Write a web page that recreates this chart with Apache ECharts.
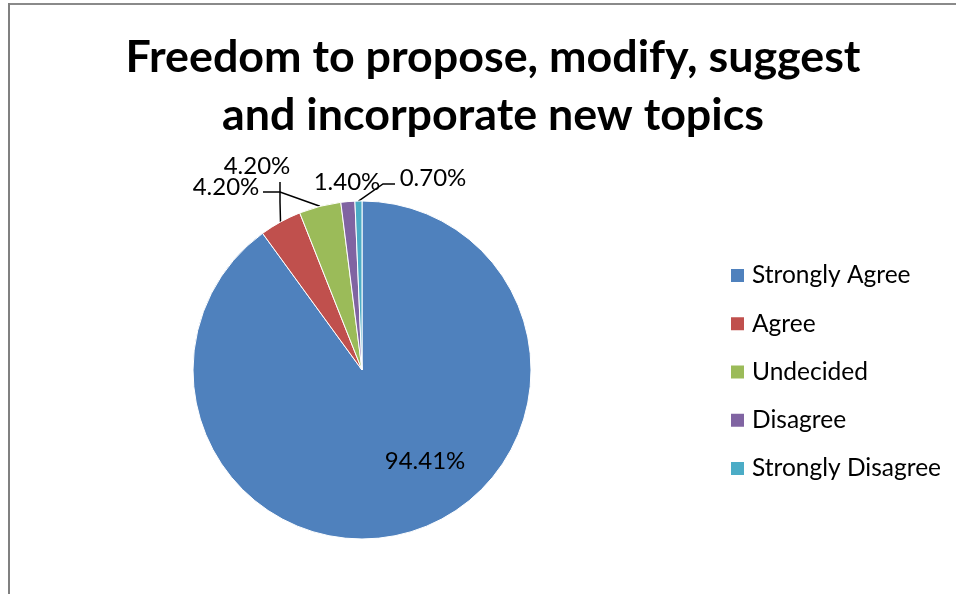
<!DOCTYPE html>
<html>
<head>
<meta charset="utf-8">
<script src="https://cdn.jsdelivr.net/npm/echarts@6/dist/echarts.min.js"></script>
<style>html,body{margin:0;padding:0;background:#fff}#c{width:956px;height:594px}</style>
</head>
<body>
<div id="c"></div>
<script>
const titleText = 'Freedom to propose, modify, suggest\nand incorporate new topics';
const categories = ['Strongly Agree', 'Agree', 'Undecided', 'Disagree', 'Strongly Disagree'];
const values = [94.41, 4.20, 4.20, 1.40, 0.70];
const colors = ['#4F81BD', '#C0504D', '#9BBB59', '#8064A2', '#4BACC6'];

// label placement (style): label centre and leader-line bend/end points
const labelPlace = [
  { x: 425, y: 461, line: null },
  { x: 257, y: 166, line: [[280, 202], [280, 182]] },
  { x: 226, y: 187, line: [[280, 192], [263, 192]] },
  { x: 347, y: 182, line: null },
  { x: 433, y: 178, line: [[383, 184], [395, 184]] }
];

const FONT = 'Lato';
const chart = echarts.init(document.getElementById('c'), null, { renderer: 'canvas' });
chart.setOption({
  animation: false,
  color: colors,
  title: {
    text: titleText,
    left: 488,
    top: 24,
    textAlign: 'center',
    textStyle: { fontFamily: FONT, fontWeight: 'bold', fontSize: 44.8, lineHeight: 58, color: '#000' }
  },
  graphic: [
    { type: 'line', shape: { x1: 8, y1: 4, x2: 956, y2: 4 }, style: { stroke: '#8a8a8a', lineWidth: 2 } },
    { type: 'line', shape: { x1: 9, y1: 3, x2: 9, y2: 594 }, style: { stroke: '#808080', lineWidth: 2 } }
  ],
  legend: {
    orient: 'vertical',
    left: 724,
    top: 258,
    itemWidth: 15,
    itemHeight: 15,
    itemGap: 23.25,
    icon: 'rect',
    textStyle: { fontFamily: FONT, fontSize: 24.5, lineHeight: 25, color: '#000', padding: [0, 0, 0, 2] },
    data: categories
  },
  series: [{
    type: 'pie',
    center: [362, 370],
    radius: 169,
    startAngle: 90,
    clockwise: true,
    avoidLabelOverlap: false,
    itemStyle: { borderColor: '#fff', borderWidth: 1 },
    emphasis: { disabled: true },
    label: {
      show: true,
      position: 'outside',
      fontFamily: FONT,
      fontSize: 24,
      color: '#000',
      formatter: p => p.value.toFixed(2) + '%'
    },
    labelLine: { show: true, length: 15, length2: 15, lineStyle: { color: '#000', width: 1.5 } },
    labelLayout: function (params) {
      const lp = labelPlace[params.dataIndex];
      const res = { x: lp.x, y: lp.y, align: 'center', verticalAlign: 'middle' };
      if (lp.line && params.labelLinePoints) {
        res.labelLinePoints = [params.labelLinePoints[0]].concat(lp.line);
      }
      return res;
    },
    data: categories.map((c, i) => ({
      name: c,
      value: values[i],
      labelLine: { show: !!labelPlace[i].line }
    }))
  }]
});
</script>
</body>
</html>
